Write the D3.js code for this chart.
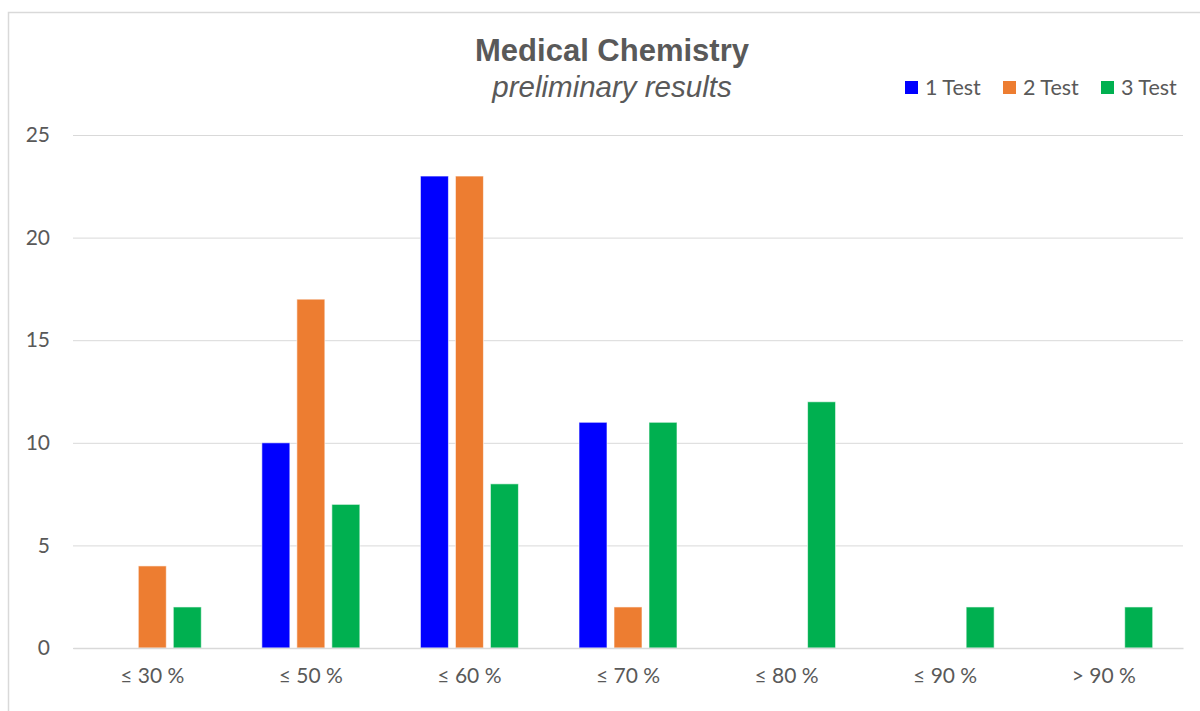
<!DOCTYPE html>
<html><head><meta charset="utf-8">
<script src="https://cdn.jsdelivr.net/npm/d3@7"></script>
<style>body{margin:0;background:#fff}svg{display:block}</style>
</head><body><svg id="c" width="1200" height="711"></svg>
<script>
const categories = ["≤ 30 %","≤ 50 %","≤ 60 %","≤ 70 %","≤ 80 %","≤ 90 %","> 90 %"];
const seriesNames = ["1 Test","2 Test","3 Test"];
const test1 = [0,10,23,11,0,0,0];
const test2 = [4,17,23,2,0,0,0];
const test3 = [2,7,8,11,12,2,2];
const yTicks = [0,5,10,15,20,25];
const colors = ["#0000FF","#ED7D31","#00B050"];
const seriesValues = [test1,test2,test3];

const svg = d3.select("#c");
svg.append("rect").attr("x",8.5).attr("y",12.5).attr("width",1200).attr("height",720)
  .attr("fill","#fff").attr("stroke","#d9d9d9").attr("stroke-width",1.5);

const pL=73,pR=1183,pT=135,pB=648;
const x0 = d3.scaleBand().domain(categories).range([pL,pR]).padding(0);
const x1 = d3.scaleBand().domain(seriesNames).range([0,105]).paddingInner(0.2).paddingOuter(0.1);
const y = d3.scaleLinear().domain([0,25]).range([pB,pT]);

const font = "Lato, 'Open Sans', sans-serif";
// gridlines
const yAxis = d3.axisLeft(y).tickValues(yTicks).tickSize(-(pR-pL)).tickPadding(23);
const gy = svg.append("g").attr("transform",`translate(${pL},0)`).call(yAxis);
gy.select(".domain").remove();
gy.selectAll(".tick line").attr("stroke","#d9d9d9").attr("stroke-width",1);
gy.selectAll(".tick text").attr("fill","#595959").style("font-family",font).style("font-size","21px");

// bars
const off = (x0.bandwidth()-105)/2;
seriesNames.forEach((s,si)=>{
  svg.append("g").selectAll("rect").data(seriesValues[si].map((v,i)=>({v,c:categories[i]})).filter(d=>d.v>0))
    .join("rect")
    .attr("x",d=>x0(d.c)+off+x1(s))
    .attr("y",d=>y(d.v))
    .attr("width",x1.bandwidth())
    .attr("height",d=>y(0)-y(d.v))
    .attr("fill",colors[si])
    .attr("stroke","rgba(255,255,255,0.6)").attr("stroke-width",1);
});

// x axis
const xAxis = d3.axisBottom(x0).tickSize(0).tickPadding(20);
const gx = svg.append("g").attr("transform",`translate(0,${pB})`).call(xAxis);
gx.select(".domain").attr("stroke","#d9d9d9").attr("stroke-width",1.5);
gx.selectAll(".tick text").attr("fill","#595959").style("font-family",font).style("font-size","21px");

// title
svg.append("text").attr("x",612).attr("y",61).attr("text-anchor","middle")
  .style("font-family","'Liberation Sans', Arial, sans-serif").style("font-weight","bold").style("font-size","31px")
  .attr("fill","#595959").text("Medical Chemistry");
svg.append("text").attr("x",612).attr("y",97).attr("text-anchor","middle")
  .style("font-family","'Liberation Sans', Arial, sans-serif").style("font-style","italic").style("font-size","29.5px")
  .attr("fill","#595959").text("preliminary results");

// legend
const legX = [905,1003,1101];
const lg = svg.append("g");
seriesNames.forEach((s,i)=>{
  lg.append("rect").attr("x",legX[i]).attr("y",81).attr("width",13).attr("height",13).attr("fill",colors[i]);
  lg.append("text").attr("x",legX[i]+20).attr("y",95).attr("fill","#595959")
    .style("font-family",font).style("font-size","21.5px").text(s);
});
</script></body></html>
